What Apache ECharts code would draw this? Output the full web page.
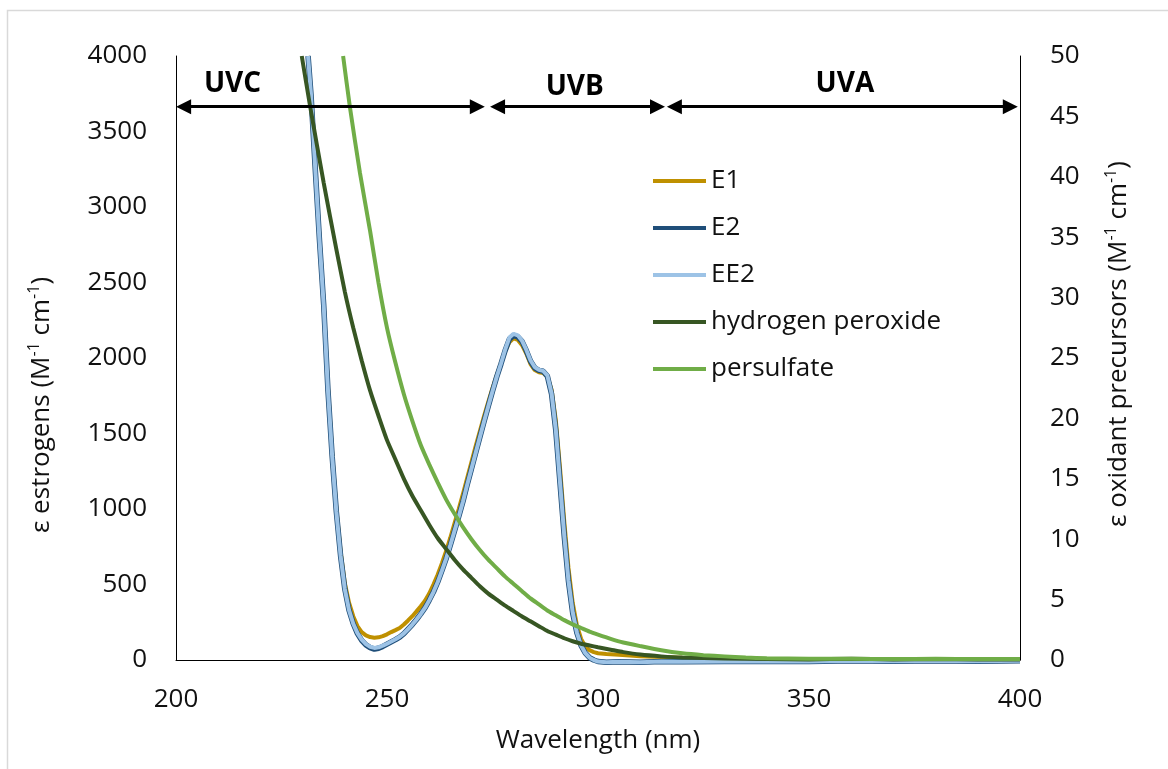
<!DOCTYPE html>
<html>
<head>
<meta charset="utf-8">
<script src="https://cdn.jsdelivr.net/npm/echarts@6/dist/echarts.min.js"></script>
<style>
html,body{margin:0;padding:0;background:#fff;}
#chart{width:1168px;height:769px;}
</style>
</head>
<body>
<div id="chart"></div>
<script>
// ---- data ----
var xTicks = [200, 250, 300, 350, 400];
var leftTicks = [0, 500, 1000, 1500, 2000, 2500, 3000, 3500, 4000];
var rightTicks = [0, 5, 10, 15, 20, 25, 30, 35, 40, 45, 50];

var wlEstrogens = [231.3, 232, 233, 234, 235, 236, 237, 238, 239, 240, 241, 242, 243, 244, 245, 246, 247, 248, 249, 250,
  251, 252, 253, 254, 255, 256, 257, 258, 259, 260, 261, 262, 263, 264, 265, 266, 267, 268, 269, 270,
  271, 272, 273, 274, 275, 276, 277, 278, 279, 280, 281, 282, 283, 284, 285, 286, 287, 288, 289, 290,
  291, 292, 293, 294, 295, 296, 297, 298, 299, 300, 302, 305, 310, 315, 320, 330, 340, 350, 360, 370, 380, 390, 400];

var e1 = [4000, 3740, 3250, 2790, 2360, 1810, 1370, 1000, 720, 510, 380, 290, 225, 185, 163, 152, 148, 150, 158, 170,
  185, 198, 212, 235, 262, 290, 322, 356, 393, 440, 500, 565, 640, 720, 810, 905, 1000, 1100, 1205, 1310,
  1415, 1515, 1615, 1710, 1800, 1885, 1965, 2045, 2105, 2130, 2120, 2085, 2030, 1960, 1920, 1905, 1900, 1875, 1790, 1590,
  1270, 920, 610, 380, 230, 140, 90, 65, 52, 45, 40, 35, 25, 20, 15, 10, 5, 5, 0, 0, 0, 0, 0];

var e2 = [4000, 3740, 3250, 2780, 2350, 1790, 1350, 980, 690, 470, 330, 240, 175, 130, 100, 82, 72, 78, 90, 105,
  120, 135, 152, 175, 205, 235, 268, 305, 345, 395, 450, 515, 590, 670, 760, 855, 950, 1050, 1160, 1265,
  1370, 1475, 1580, 1680, 1780, 1875, 1960, 2050, 2125, 2150, 2140, 2110, 2050, 1980, 1935, 1918, 1912, 1880, 1760, 1520,
  1170, 820, 520, 310, 180, 95, 45, 15, 0, -10, -15, -12, -15, -10, -12, -10, -8, -10, -5, -8, -5, -8, -5];

var ee2 = [4000, 3740, 3250, 2780, 2350, 1790, 1350, 980, 690, 470, 330, 240, 178, 135, 105, 88, 80, 84, 95, 108,
  122, 137, 154, 176, 205, 235, 268, 305, 345, 395, 450, 515, 590, 670, 760, 855, 950, 1050, 1160, 1265,
  1370, 1475, 1580, 1680, 1780, 1875, 1962, 2055, 2135, 2160, 2150, 2115, 2055, 1985, 1940, 1922, 1915, 1885, 1765, 1525,
  1175, 825, 525, 315, 182, 96, 45, 15, 0, -10, -15, -12, -15, -10, -12, -10, -8, -10, -5, -8, -5, -8, -5];

var wlH2O2 = [229.8, 231.8, 235, 238, 240, 242, 244, 246, 248, 250, 252, 254, 256, 258, 260, 262, 264, 266, 268, 270,
  272, 274, 276, 278, 280, 282, 284, 286, 288, 290, 292, 294, 296, 298, 300, 303, 306, 310, 315, 320,
  330, 340, 350, 360, 370, 380, 390, 400];
var h2o2 = [50, 45.8, 39.5, 34, 30.5, 27.5, 24.8, 22.3, 20.2, 18.2, 16.6, 15.0, 13.6, 12.4, 11.2, 10.1, 9.2, 8.3, 7.5, 6.8,
  6.1, 5.5, 5.0, 4.5, 4.05, 3.6, 3.2, 2.8, 2.4, 2.1, 1.8, 1.55, 1.35, 1.2, 1.05, 0.85, 0.65, 0.45, 0.3, 0.2,
  0.12, 0.08, 0.05, 0.1, 0.05, 0.08, 0.05, 0.05];

var wlPersulfate = [239.6, 241.2, 243.6, 246, 248, 250, 252, 254, 256, 258, 260, 262, 264, 266, 268, 270, 272, 274, 276, 278,
  280, 282, 284, 286, 288, 290, 292, 294, 296, 298, 300, 303, 306, 310, 315, 320, 325, 330, 335, 340,
  350, 360, 370, 380, 390, 400];
var persulfate = [50, 45.8, 40.3, 35.5, 31.2, 27.5, 24.6, 22.0, 19.8, 17.8, 16.2, 14.7, 13.3, 12.1, 11.0, 10.0, 9.1, 8.3, 7.6, 6.9,
  6.3, 5.7, 5.1, 4.6, 4.1, 3.7, 3.3, 2.95, 2.65, 2.35, 2.1, 1.75, 1.45, 1.15, 0.8, 0.55, 0.4, 0.3, 0.2, 0.15,
  0.1, 0.1, 0.08, 0.1, 0.08, 0.08];

// UV band arrows (start nm, end nm) and labels
var bandNames = ['UVC', 'UVB', 'UVA'];
var bandRanges = [[200, 273.2], [274.4, 315.9], [316.3, 399.5]];
var bandLabelX = [213.4, 294.5, 358.5];
var bandArrowY = 3664;
var bandLabelY = [3815, 3797, 3815];

// ---- chart ----
function pairs(xs, ys) { return xs.map(function (x, i) { return [x, ys[i]]; }); }

var FONT = '"Open Sans", "Noto Sans", sans-serif';
var TXT = '#111';
var arrowInset = 1.8;

var markLineData = bandRanges.map(function (r) {
  return [{ coord: [r[0] + arrowInset, bandArrowY] }, { coord: [r[1] - arrowInset, bandArrowY] }];
});
var markPointData = bandNames.map(function (n, i) {
  return { name: n, coord: [bandLabelX[i], bandLabelY[i]] };
});

var chart = echarts.init(document.getElementById('chart'), null, { renderer: 'canvas' });
var supRich = { sup: { fontSize: 16, lineHeight: 16, verticalAlign: 'top', fontFamily: FONT, color: TXT } };
function plain(v) { return String(v); }

chart.setOption({
  animation: false,
  backgroundColor: '#fff',
  textStyle: { fontFamily: FONT },
  grid: { left: 176, right: 148, top: 56, bottom: 109, containLabel: false, outerBoundsMode: 'none' },
  graphic: [{
    type: 'rect', silent: true,
    shape: { x: 7.5, y: 10.5, width: 1300, height: 900 },
    style: { fill: 'none', stroke: '#d9d9d9', lineWidth: 1.5 }
  }],
  legend: {
    orient: 'vertical', left: 648, top: 161,
    icon: 'rect', itemWidth: 53, itemHeight: 4, itemGap: 17,
    textStyle: { fontSize: 26, fontFamily: FONT, color: TXT, lineHeight: 30 },
    data: ['E1', 'E2', 'EE2', 'hydrogen peroxide', 'persulfate']
  },
  xAxis: {
    type: 'value', min: xTicks[0], max: xTicks[xTicks.length - 1], interval: 50,
    name: 'Wavelength (nm)', nameLocation: 'middle', nameGap: 68,
    nameTextStyle: { fontSize: 26, color: TXT, fontFamily: FONT },
    axisLine: { lineStyle: { color: '#000', width: 1 } },
    axisTick: { show: false }, splitLine: { show: false },
    axisLabel: { fontSize: 26, color: TXT, margin: 27, fontFamily: FONT, formatter: plain }
  },
  yAxis: [{
    type: 'value', min: leftTicks[0], max: leftTicks[leftTicks.length - 1], interval: 500, position: 'left',
    name: 'ε estrogens (M{sup|-1} cm{sup|-1})', nameLocation: 'middle', nameGap: 118,
    nameTextStyle: { fontSize: 26, color: TXT, fontFamily: FONT, lineHeight: 32, padding: [0, 94, 0, 0], rich: supRich },
    axisLine: { show: true, lineStyle: { color: '#000', width: 1 } },
    axisTick: { show: false }, splitLine: { show: false },
    axisLabel: { fontSize: 26, color: TXT, margin: 29, fontFamily: FONT, formatter: plain }
  }, {
    type: 'value', min: rightTicks[0], max: rightTicks[rightTicks.length - 1], interval: 5, position: 'right',
    name: 'ε oxidant precursors (M{sup|-1} cm{sup|-1})', nameLocation: 'middle', nameGap: 83,
    nameTextStyle: { fontSize: 26, color: TXT, fontFamily: FONT, lineHeight: 32, padding: [0, 0, 0, 28], rich: supRich },
    axisLine: { show: true, lineStyle: { color: '#000', width: 1 } },
    axisTick: { show: false }, splitLine: { show: false },
    axisLabel: { fontSize: 26, color: TXT, margin: 30, fontFamily: FONT, formatter: plain }
  }],
  series: [{
    name: 'E1', type: 'line', yAxisIndex: 0, data: pairs(wlEstrogens, e1),
    symbol: 'none', clip: false, color: '#BF9000', lineStyle: { width: 4, color: '#BF9000' },
    markLine: {
      silent: true, symbol: ['triangle', 'triangle'], symbolSize: [15, 15],
      lineStyle: { color: '#000', width: 3, type: 'solid' },
      label: { show: false }, data: markLineData
    },
    markPoint: {
      silent: true, symbol: 'circle', symbolSize: 0,
      label: { show: true, position: 'inside', formatter: '{b}', fontSize: 28, fontWeight: 'bold', color: '#000', fontFamily: FONT },
      data: markPointData
    }
  }, {
    name: 'E2', type: 'line', yAxisIndex: 0, data: pairs(wlEstrogens, e2),
    symbol: 'none', clip: false, color: '#1F4E79', lineStyle: { width: 5.5, color: '#1F4E79' }
  }, {
    name: 'EE2', type: 'line', yAxisIndex: 0, data: pairs(wlEstrogens, ee2),
    symbol: 'none', clip: false, color: '#9DC3E6', lineStyle: { width: 4, color: '#9DC3E6' }
  }, {
    name: 'hydrogen peroxide', type: 'line', yAxisIndex: 1, data: pairs(wlH2O2, h2o2),
    symbol: 'none', clip: false, smooth: 0.2, color: '#375623', lineStyle: { width: 4, color: '#375623' }
  }, {
    name: 'persulfate', type: 'line', yAxisIndex: 1, data: pairs(wlPersulfate, persulfate),
    symbol: 'none', clip: false, smooth: 0.2, color: '#70AD47', lineStyle: { width: 4, color: '#70AD47' }
  }]
});
</script>
</body>
</html>
